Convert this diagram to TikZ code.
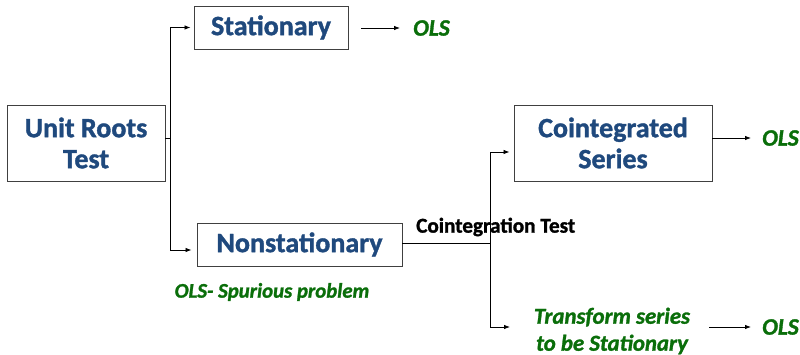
\documentclass[tikz,border=0pt]{standalone}
\usepackage{fontspec}
\setmainfont{Carlito}[
  BoldFont=Carlito Bold,
  ItalicFont=Carlito Italic,
  BoldItalicFont=Carlito Bold Italic,
  BoldFeatures={FakeBold=1.3},
  BoldItalicFeatures={FakeBold=1.3}]
\usetikzlibrary{arrows.meta}
\definecolor{boxblue}{HTML}{1F497D}
\definecolor{olsgreen}{HTML}{0A6E0A}
\definecolor{frame}{HTML}{404040}
\tikzset{
  stagebox/.style={draw=frame, line width=0.9pt, inner sep=0pt, align=center,
    text=boxblue, font=\fontsize{28}{31}\selectfont\bfseries},
  result/.style={text=olsgreen, inner sep=0pt, align=center,
    font=\fontsize{23.5}{26}\selectfont\bfseries\itshape},
  note/.style={text=olsgreen, inner sep=0pt, align=center,
    font=\fontsize{20.8}{24}\selectfont\bfseries\itshape},
  wire/.style={draw=black, line width=0.8pt},
  flow/.style={wire, -{Latex[length=6pt,width=4.5pt]}},
}
\begin{document}
\begin{tikzpicture}[x=1pt,y=-1pt]
  \useasboundingbox (0,0) rectangle (800,355);

  % boxes
  \node[stagebox, minimum width=158, minimum height=76] (unit) at (86,143) {Unit Roots\\Test};
  \node[stagebox, minimum width=154, minimum height=43] (stat) at (271,27.5) {Stationary};
  \node[stagebox, minimum width=205, minimum height=43] (nons) at (299.5,244.5) {Nonstationary};
  \node[stagebox, minimum width=198, minimum height=76] (coint) at (613,143) {Cointegrated\\Series};

  % outcome labels
  \node[result, anchor=west] (ols1) at (413,28) {OLS};
  \node[result, anchor=west] (ols2) at (762,138) {OLS};
  \node[result, anchor=west] (ols3) at (762,327) {OLS};
  \node[note] (spur) at (272,292) {OLS- Spurious problem};
  \node[note, font=\fontsize{22.8}{27}\selectfont\bfseries\itshape] (trans) at (612,331)
    {Transform series\\to be Stationary};
  \node[anchor=west, inner sep=0pt, font=\fontsize{21.2}{24}\selectfont\bfseries] (ctest)
    at (416,227) {Cointegration Test};

  % branching points
  \coordinate (j1) at (170,138);
  \coordinate (j2) at (490,243);
  \coordinate (tin) at (510,327);
  \coordinate (sa) at (361,28);
  \coordinate (sb) at (400,28);
  \coordinate (ta) at (709,327);
  \coordinate (tb) at (751,327);
  \coordinate (cb) at (751,138);

  % unit root test branches
  \draw[wire] (unit.east |- j1) -- (j1);
  \draw[flow, shorten >=3pt] (j1) |- (stat.west);
  \draw[flow, shorten >=5pt] (j1) |- ([yshift=-5.5]nons.west);

  % cointegration test branches
  \draw[wire] (nons.east |- j2) -- (j2);
  \draw[flow, shorten >=4pt] (j2) |- ([yshift=-9]coint.west);
  \draw[flow] (j2) |- (tin);

  % arrows to estimation
  \draw[flow] (sa) -- (sb);
  \draw[flow] (coint.east |- cb) -- (cb);
  \draw[flow] (ta) -- (tb);
\end{tikzpicture}
\end{document}
